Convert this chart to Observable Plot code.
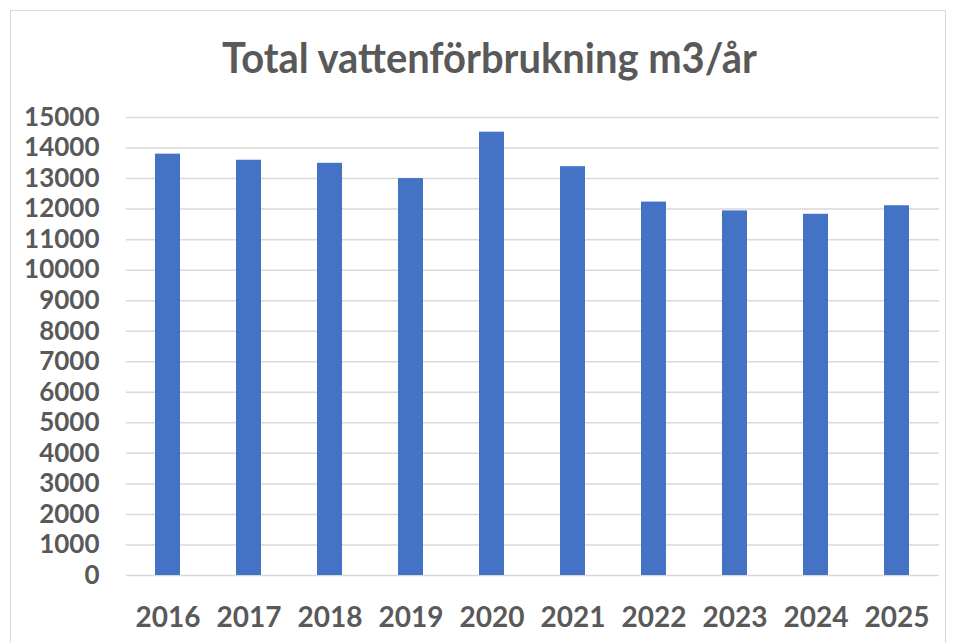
<!DOCTYPE html>
<html>
<head>
<meta charset="utf-8">
<script src="https://cdn.jsdelivr.net/npm/d3@7"></script>
<script src="https://cdn.jsdelivr.net/npm/@observablehq/plot@0.6"></script>
<style>
  body { margin: 0; background: #fff; }
  #wrap { position: relative; width: 957px; height: 643px; overflow: hidden; }
  #frame { position: absolute; left: 10px; top: 10px; width: 936px; height: 640px; border: 1px solid #d9d9d9; box-sizing: border-box; }
  #title { position: absolute; left: 11px; top: 36px; width: 957px; text-align: center;
    font-family: Lato, sans-serif; font-weight: bold; font-size: 42px; line-height: 1; color: #595959; }
  #title span { display: inline-block; transform: scaleX(0.95); transform-origin: center; }
  #chart { position: absolute; left: 0; top: 100px; }
</style>
</head>
<body>
<div id="wrap">
  <div id="frame"></div>
  <div id="title"><span>Total vattenförbrukning m3/år</span></div>
  <div id="chart"></div>
</div>
<script>
const years = ["2016","2017","2018","2019","2020","2021","2022","2023","2024","2025"];
const values = [13800, 13600, 13500, 13000, 14520, 13390, 12230, 11940, 11830, 12110];
const yTicks = d3.range(0, 15001, 1000);

const data = years.map((y, i) => ({year: y, value: values[i]}));

const chart = Plot.plot({
  width: 957,
  height: 543,
  marginTop: 17,
  marginBottom: 68,
  marginLeft: 126,
  marginRight: 18,
  style: { fontFamily: "Lato, sans-serif", color: "#595959", background: "transparent" },
  x: { domain: years, paddingInner: 0.69, paddingOuter: 0.345, label: null },
  y: { domain: [0, 15000], label: null },
  marks: [
    Plot.ruleY(yTicks, { stroke: "#d9d9d9", strokeWidth: 1.5 }),
    Plot.barY(data, { x: "year", y: "value", fill: "#4472c4" }),
    Plot.axisY(yTicks, { tickSize: 0, tickPadding: 27, fontSize: 26, fontWeight: "bold", label: null, tickFormat: d => String(d) }),
    Plot.axisX({ tickSize: 0, tickPadding: 32, fontSize: 28, fontWeight: "bold", label: null })
  ]
});
document.getElementById("chart").appendChild(chart);
</script>
</body>
</html>
